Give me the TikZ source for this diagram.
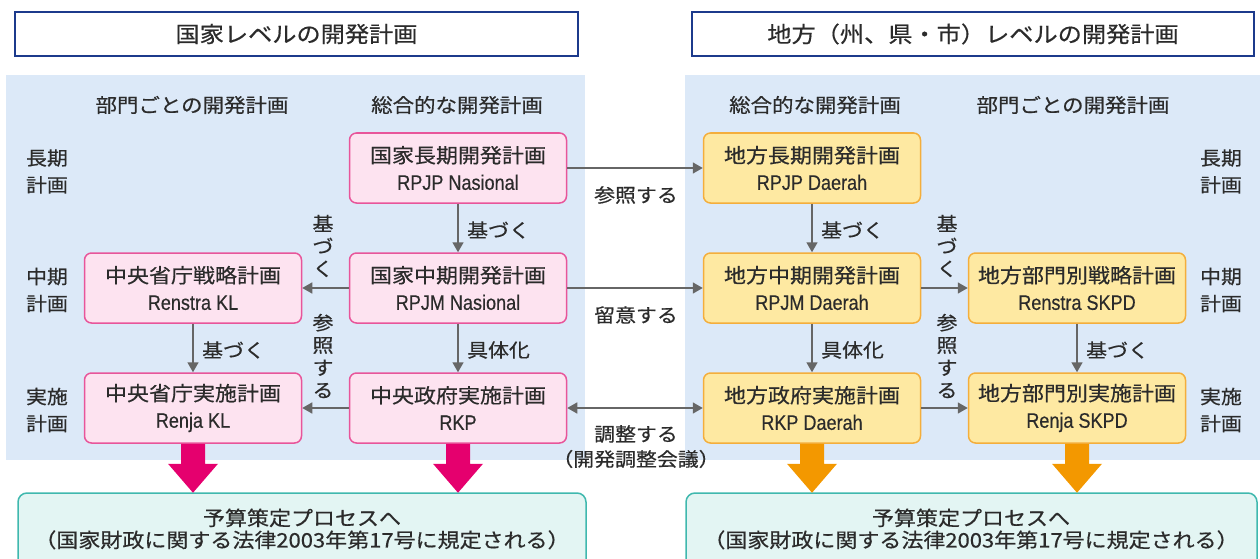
\documentclass[tikz,border=0pt]{standalone}
\usepackage{fontspec}
\setmainfont{Noto Sans CJK JP}[FakeStretch=1.1,FakeBold=0.5]
\newfontfamily\lat{Liberation Sans}[FakeStretch=0.86,FakeBold=0.4]
\usetikzlibrary{arrows.meta}
\definecolor{panel}{HTML}{DCE9F8}
\definecolor{pinkF}{HTML}{FDE3F0}
\definecolor{pinkB}{HTML}{E8559A}
\definecolor{yelF}{HTML}{FEE9A2}
\definecolor{yelB}{HTML}{F4AE3C}
\definecolor{budF}{HTML}{E3F5F3}
\definecolor{budB}{HTML}{3FB8AE}
\definecolor{titB}{HTML}{1C3A8C}
\definecolor{agray}{HTML}{666666}
\definecolor{bigpink}{HTML}{E5006E}
\definecolor{bigorange}{HTML}{F39800}
\definecolor{txt}{HTML}{2B2B2B}
\tikzset{
  every node/.style={text=txt, inner sep=0pt},
  titlebox/.style={draw=titB, fill=white, line width=2pt, minimum height=44pt,
    font=\fontsize{22}{26}\selectfont},
  planbox/.style={rounded corners=7pt, line width=1.5pt, minimum width=217pt,
    minimum height=70pt, align=center, font=\fontsize{20}{27}\selectfont},
  pbox/.style={planbox, draw=pinkB, fill=pinkF},
  ybox/.style={planbox, draw=yelB, fill=yelF},
  budbox/.style={rounded corners=9pt, line width=1.5pt, draw=budB, fill=budF},
  budtext/.style={align=center, font=\fontsize{20}{22}\selectfont},
  hdr/.style={font=\fontsize{19.5}{24}\selectfont},
  rlab/.style={align=center, font=\fontsize{19}{27}\selectfont},
  lab/.style={font=\fontsize{19}{24}\selectfont},
  vlab/.style={align=center, font=\fontsize{19}{22.5}\selectfont},
  latn/.style={font=\lat\fontsize{21}{27}\selectfont},
  arr/.style={draw=agray, line width=1.6pt, -{Triangle[length=10pt,width=11pt]}},
  darr/.style={draw=agray, line width=1.6pt, {Triangle[length=10pt,width=11pt]}-{Triangle[length=10pt,width=11pt]}},
}
\newcommand{\LT}[1]{{\lat\fontsize{21}{27}\selectfont #1}}
\newcommand{\fatarrow}[2]{\fill[#2] (#1.south) ++(-12,0) -- ++(0,20) -- ++(-13,0) -- ++(25,29) -- ++(25,-29) -- ++(-13,0) -- ++(0,-20) -- cycle;}
\begin{document}
\begin{tikzpicture}[x=1pt,y=-1pt]
\useasboundingbox (0,0) rectangle (1260,559);
\clip (0,0) rectangle (1260,559);
% panels
\fill[panel] (6,75) rectangle (585,460);
\fill[panel] (685,75) rectangle (1260,460);
% titles
\node[titlebox, minimum width=563pt] (t1) at (296.5,34) {国家レベルの開発計画};
\node[titlebox, minimum width=562pt] (t2) at (973,34) {地方（州、県・市）レベルの開発計画};
% column headers
\node[hdr] (h1) at (192,105) {部門ごとの開発計画};
\node[hdr] (h2) at (457,105) {総合的な開発計画};
\node[hdr] (h3) at (815,105) {総合的な開発計画};
\node[hdr] (h4) at (1073,105) {部門ごとの開発計画};
% row labels
\node[rlab] (r1) at (47,171.5) {長期\\計画};
\node[rlab] (r2) at (47,290) {中期\\計画};
\node[rlab] (r3) at (47,410) {実施\\計画};
\node[rlab] (r4) at (1221,171.5) {長期\\計画};
\node[rlab] (r5) at (1221,290) {中期\\計画};
\node[rlab] (r6) at (1221,410) {実施\\計画};
% boxes
\node[pbox] (NL) at (458,168) {国家長期開発計画\\\LT{RPJP Nasional}};
\node[pbox] (NM) at (458,288) {国家中期開発計画\\\LT{RPJM Nasional}};
\node[pbox] (NR) at (458,408) {中央政府実施計画\\\LT{RKP}};
\node[pbox] (KS) at (193,288) {中央省庁戦略計画\\\LT{Renstra KL}};
\node[pbox] (KR) at (193,408) {中央省庁実施計画\\\LT{Renja KL}};
\node[ybox] (DL) at (812,168) {地方長期開発計画\\\LT{RPJP Daerah}};
\node[ybox] (DM) at (812,288) {地方中期開発計画\\\LT{RPJM Daerah}};
\node[ybox] (DR) at (812,408) {地方政府実施計画\\\LT{RKP Daerah}};
\node[ybox] (SS) at (1077,288) {地方部門別戦略計画\\\LT{Renstra SKPD}};
\node[ybox] (SR) at (1077,408) {地方部門別実施計画\\\LT{Renja SKPD}};
% budget boxes
\draw[budbox] (18,493) rectangle (586,580);
\draw[budbox] (686,493) rectangle (1257,580);
\node[budtext] (b1) at (302,529) {予算策定プロセスへ\\（国家財政に関する法律2003年第17号に規定される）};
\node[budtext] (b2) at (971,529) {予算策定プロセスへ\\（国家財政に関する法律2003年第17号に規定される）};
% arrows left
\draw[arr] (NL) -- (NM);
\node[lab, anchor=west] (l1) at (467,230) {基づく};
\draw[arr] (NM) -- (NR);
\node[lab, anchor=west] (l2) at (467,350) {具体化};
\draw[arr] (NM) -- (KS);
\draw[arr] (NR) -- (KR);
\draw[arr] (KS) -- (KR);
\node[lab, anchor=west] (l3) at (202,350) {基づく};
\node[vlab] (v1) at (323,246) {基\\づ\\く};
\node[vlab] (v2) at (323,356) {参\\照\\す\\る};
% middle
\draw[arr] (NL) -- (DL);
\node[lab] (m1) at (636,195) {参照する};
\draw[arr] (NM) -- (DM);
\node[lab] (m2) at (636,315) {留意する};
\draw[darr] (NR) -- (DR);
\node[lab] (m3) at (636,434) {調整する};
\node[lab] (m4) at (636,459) {（開発調整会議）};
% arrows right
\draw[arr] (DL) -- (DM);
\node[lab, anchor=west] (l4) at (821,230) {基づく};
\draw[arr] (DM) -- (DR);
\node[lab, anchor=west] (l5) at (821,350) {具体化};
\draw[arr] (DM) -- (SS);
\draw[arr] (DR) -- (SR);
\draw[arr] (SS) -- (SR);
\node[lab, anchor=west] (l6) at (1086,350) {基づく};
\node[vlab] (v3) at (947,246) {基\\づ\\く};
\node[vlab] (v4) at (947,356) {参\\照\\す\\る};
% fat arrows
\fatarrow{KR}{bigpink}
\fatarrow{NR}{bigpink}
\fatarrow{DR}{bigorange}
\fatarrow{SR}{bigorange}
\end{tikzpicture}
\end{document}
